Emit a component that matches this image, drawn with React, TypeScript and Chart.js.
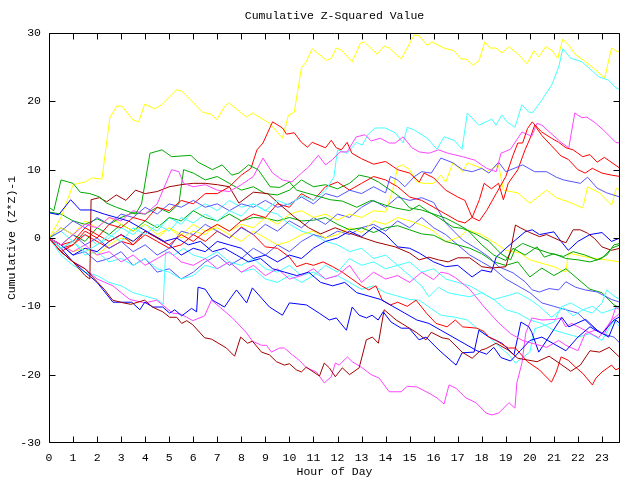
import React, { useEffect, useRef } from "react";
import { Chart, registerables } from "chart.js";

Chart.register(...registerables);

const TITLE = "Cumulative Z-Squared Value";
const X_TITLE = "Hour of Day";
const Y_TITLE = "Cumulative (Z*Z)-1";
const X_MIN = 0;
const X_MAX = 23.75;
const Y_MIN = -30;
const Y_MAX = 30;
const X_TICKS = [0,1,2,3,4,5,6,7,8,9,10,11,12,13,14,15,16,17,18,19,20,21,22,23];
const Y_TICKS = [-30,-20,-10,0,10,20,30];

const RED = "#ff0000";
const GREEN = "#00a800";
const BLUE = "#0000ff";
const MAGENTA = "#ff44ff";
const CYAN = "#44ffff";
const DARKRED = "#a00000";
const YELLOW = "#ffff00";
const SLATE = "#5555ff";

type P = [number, number];

const yellowTop: P[] = [[0,0],[0.5,3],[1,7.8],[1.5,8.2],[1.8,8.8],[2.2,8.6],[2.53,17.6],[2.82,19.3],[3.03,19.3],[3.49,17.3],[3.73,17],[3.98,19.6],[4.4,18.9],[4.69,19.5],[5.31,21.7],[5.52,21.5],[5.98,19.9],[6.39,18.4],[6.76,18.1],[6.97,17.3],[7.3,19.2],[7.47,19.8],[8.22,17.7],[8.46,18.3],[9.17,16.8],[9.71,14.6],[9.96,18],[10.2,18.4],[10.5,24.9],[10.7,25.8],[10.95,27.7],[11.54,26],[11.74,26.3],[11.95,27.8],[12.16,27.5],[12.61,25.8],[12.95,28.5],[13.11,28.7],[13.65,26.9],[13.94,28.1],[14.15,27.8],[14.65,26.2],[15.19,29.7],[15.39,29.6],[15.73,28.2],[15.93,28.7],[16.43,27.8],[16.85,27.4],[17.14,26.2],[17.34,26.2],[17.63,25.3],[17.88,25.9],[18.13,28.7],[18.34,27.8],[18.59,27.8],[18.84,27.1],[19.13,28],[19.54,26.8],[19.88,25.5],[20.17,27.4],[20.37,26.5],[20.66,28],[20.91,27.5],[21.16,26.3],[21.37,29.1],[21.62,28.2],[21.91,26.8],[22.32,25.8],[22.74,24.6],[23.11,23.4],[23.4,27.8],[23.57,27.4],[23.75,27.2]];

const cyanTop: P[] = [[0,0],[0.5,-1.5],[1,-0.5],[1.5,-2],[2,-1],[2.5,0.5],[3,-0.5],[3.5,1.5],[4,0.5],[4.5,2],[5,1],[5.5,3],[6,2.2],[6.5,3.5],[7,2.5],[7.5,4],[8,3.2],[8.5,5],[9,4],[9.5,5.5],[10,4.8],[10.5,6.2],[11,5.5],[11.5,7],[11.85,8.9],[12.0,12.9],[12.4,12.4],[12.78,14],[13.03,13.6],[13.28,15.2],[13.57,16.1],[13.98,16.1],[14.4,15.4],[14.73,13.9],[14.9,16.2],[15.2,15.8],[15.73,14.6],[16.14,13],[16.43,14.8],[16.85,14.3],[17.18,13],[17.4,18.3],[17.88,16.5],[18.42,17.4],[18.59,16.5],[18.84,18],[19.05,17],[19.38,16.2],[19.67,19.5],[19.96,18.4],[20.13,18.4],[20.5,20.2],[20.91,22.4],[21.2,25],[21.37,27.7],[21.7,26.3],[22.16,25.8],[22.45,24.9],[22.86,23.6],[23.28,23.1],[23.57,22],[23.75,21.7]];

const magentaHigh: P[] = [[0,0],[0.5,-1],[1,0.5],[1.5,2],[2,1.5],[2.5,3],[3,2.5],[3.5,4],[4,3.5],[4.5,5],[5.1,10],[5.4,9.7],[5.6,8],[6,7.5],[6.5,7.8],[7,7],[7.5,6.8],[8,7.8],[8.5,9],[8.9,11.7],[9.3,9.5],[9.7,8.5],[10.1,8.2],[10.5,9.5],[10.8,10.4],[11.2,12.1],[11.5,10.7],[11.8,11.5],[12.1,12.6],[12.4,12.6],[12.78,14.8],[13.15,15.1],[13.4,14.2],[13.78,14.6],[14.15,13.9],[14.4,13.9],[14.73,14.8],[15.1,13.2],[15.4,12.6],[15.8,12.4],[16.2,12.9],[16.6,12.4],[17.2,11.9],[17.7,11.4],[18.2,10.2],[18.6,9.7],[18.8,12.4],[19.2,13],[19.67,15.5],[20.08,14.9],[20.3,16.8],[20.5,16.5],[21.33,13.9],[21.62,13.2],[21.87,18.3],[22.16,17.6],[22.37,17.7],[22.74,16.8],[23.15,15.5],[23.57,14],[23.75,13.9]];

const redPeak: P[] = [[0,0],[0.5,-2],[1,-1],[1.5,1],[2,0],[2.5,2],[3,1.5],[3.5,3],[4,2.5],[4.5,4.5],[5,4],[5.5,5.5],[6,5],[6.5,6.5],[7,6.5],[7.5,7.5],[8,9.2],[8.4,10.2],[8.65,12.9],[8.9,13.9],[9.3,17],[9.71,16.1],[9.88,15.2],[10.2,15.4],[10.5,14],[10.75,13.3],[10.95,14],[11.5,13.2],[11.74,14.3],[11.95,13.2],[12.16,12.9],[12.4,14],[12.6,12.4],[13,11.6],[13.5,10.8],[14,11.2],[14.5,10],[15,9.5],[15.4,8.2],[15.6,9.5],[16,8.8],[16.5,7],[17,6],[17.3,5.5],[17.6,3],[17.9,2.5],[18.2,4],[18.6,6.5],[19,9],[19.3,12.1],[19.5,13.9],[19.7,13.9],[19.9,16],[20.1,17],[20.3,16.2],[20.5,15.5],[20.9,14.6],[21.2,14],[21.5,13.2],[21.8,12.9],[22.2,11.9],[22.5,12.2],[22.8,11.1],[23.1,11.8],[23.75,10.2]];

const redLate: P[] = [[0,0],[0.5,-1],[1,-0.5],[1.5,1.5],[2,0.5],[2.5,-0.5],[3,0.5],[3.5,-1],[4,1],[4.5,0],[5,-1],[5.5,0.5],[6,-0.5],[6.5,1],[7,2],[7.5,1],[8,2.5],[8.5,3.5],[9,3],[9.5,5],[10,4.5],[10.5,6.5],[11,5.5],[11.5,7.5],[12,8.2],[12.5,7],[13,8],[13.5,9],[14,8.5],[14.5,7.5],[15,6],[15.5,5.5],[16,4.5],[16.5,3.5],[17,2.5],[17.3,2.2],[17.6,3],[17.9,5.6],[18.1,8],[18.4,7.2],[18.7,8],[18.9,5.6],[19.1,8],[19.5,10],[19.8,12.9],[20,14.5],[20.2,16.5],[20.5,15],[20.9,13.5],[21.3,12],[21.6,11.5],[22,10],[22.3,9.5],[22.6,10.2],[23,9.5],[23.4,9.2],[23.75,9]];

const redLow: P[] = [[0,0],[0.5,-1.5],[1,-1],[1.5,0.5],[2,-0.5],[2.5,-1.5],[3,-0.5],[3.5,-1],[4,0.5],[4.5,-0.5],[5,-1.5],[5.5,-1],[6,0.5],[6.5,-0.5],[7,1],[7.5,0],[8,1.6],[8.5,0.5],[9,-1.3],[9.5,-1.5],[10,-2.8],[10.3,-4.2],[10.7,-3.7],[11,-4],[11.4,-3.5],[11.8,-4.2],[12.2,-5],[12.6,-6],[13,-7],[13.3,-7.6],[13.6,-7],[13.86,-9.1],[14.2,-9.8],[14.5,-9.4],[14.9,-10],[15.27,-9.1],[15.7,-11],[16.1,-12.5],[16.56,-13],[16.9,-12],[17.2,-13],[17.8,-13.2],[18.1,-13.7],[18.3,-14.5],[18.6,-15],[19.1,-16.1],[19.4,-16.1],[19.9,-18.1],[20.4,-19.3],[20.9,-21.1],[21.1,-19.6],[21.3,-17.4],[21.6,-17.9],[21.9,-18.9],[22.2,-19.8],[22.6,-21.5],[22.75,-20.5],[23,-19.6],[23.4,-18.6],[23.57,-19.3],[23.75,-19]];

const greenHigh: P[] = [[0,4.5],[0.2,4],[0.5,8.5],[0.8,8.2],[1,8],[1.3,6.7],[1.7,6.5],[2.1,6],[2.4,5.1],[2.8,4.5],[3.2,4],[3.6,3.5],[3.85,5],[4.2,12.4],[4.7,12.9],[5.1,11.9],[5.9,12.1],[6.2,11.1],[6.8,10],[7.2,10.7],[7.6,9.2],[7.9,9.5],[8.3,10.7],[8.7,10],[9.2,7.5],[9.6,7.4],[10,8.2],[10.3,7],[10.7,6.6],[11.1,6.2],[11.7,5.6],[12.2,5.4],[12.8,4.5],[13.4,5.5],[14,4.8],[14.4,4.4],[15,4],[15.4,4.8],[15.8,3.8],[16.2,3],[16.8,1.6],[17.2,1.4],[17.8,0.5],[18.3,-0.5],[18.8,-2.3],[19.2,-3.2],[19.4,-1.5],[19.7,-0.8],[20.2,-1.5],[20.8,-2.2],[21.4,-2.7],[21.8,-2],[22.3,-2.5],[22.8,-3.2],[23.2,-2.5],[23.5,-1],[23.75,-0.8]];

const greenMid: P[] = [[0,3.8],[0.5,3.5],[1,2.5],[1.5,2],[2,2.8],[2.5,2],[3,3],[3.5,3.7],[4,3.5],[4.5,4.5],[5,3.7],[5.4,5],[5.6,10],[6,9.5],[6.5,8.5],[7,9],[7.5,8],[8,7],[8.5,7.5],[9,6.5],[9.5,6.3],[10,7],[10.5,8.5],[11,7.5],[11.5,7.8],[12,7.2],[12.5,8],[12.9,9.2],[13.3,8.9],[13.7,8.2],[14.2,7],[14.6,6],[15,4.4],[15.5,4.1],[16,3.5],[16.5,2.9],[17,2],[17.4,1.2],[18,-1],[18.5,-2.5],[19,-3.3],[19.3,-1.5],[19.8,-2.5],[20.3,-1.3],[20.6,-2.8],[21,-2.3],[21.5,-3],[22,-3.2],[22.5,-3.5],[23,-3],[23.4,-1.5],[23.75,-1]];

const greenLow: P[] = [[0,0],[0.5,-1],[1,0.5],[1.5,-0.5],[2,1.5],[2.5,0.5],[3,2],[3.5,1],[4,2.5],[4.5,1.5],[5,3],[5.5,2.5],[6,4],[6.5,3],[7,2.5],[7.5,3.5],[8,2.5],[8.5,3],[9,2.9],[9.5,2.5],[10,3],[10.5,2.5],[11,2.6],[11.5,3],[12,2],[12.5,1.2],[13,1.5],[13.5,0.8],[14,1.5],[14.5,1.8],[15,1.2],[15.5,0.6],[16,0.4],[16.5,-0.5],[17,-1],[17.5,-1.5],[18,-2.3],[18.5,-3.5],[19,-4],[19.5,-3.5],[20,-5.7],[20.5,-4.4],[21,-5.5],[21.5,-4.5],[22,-6],[22.5,-7.5],[23,-8],[23.5,-9.8],[23.75,-10.2]];

const blueHigh: P[] = [[0,3.7],[0.4,3.4],[0.9,5.6],[1.3,4.1],[1.8,4.1],[2.3,3.5],[2.8,3],[3.3,2.5],[3.8,1.5],[4.3,0.5],[4.8,-0.5],[5.3,0],[5.8,-1],[6.3,-0.5],[6.8,-2],[7.3,-1.5],[7.8,-2.5],[8.3,-3.5],[8.8,-3],[9.3,-4.5],[9.8,-5],[10.3,-5.5],[10.8,-5],[11.3,-6.5],[11.8,-7],[12.3,-6.5],[12.8,-8],[13.3,-8.5],[13.8,-9],[14.3,-10],[14.8,-11],[15.3,-12],[15.8,-12.5],[16.3,-13.5],[16.8,-14.5],[17.3,-15.5],[17.8,-16.5],[18.2,-17],[18.5,-16],[18.8,-17.5],[19.2,-18],[19.6,-16.5],[20,-15],[20.5,-14.5],[21,-15.5],[21.5,-16.5],[22,-14.5],[22.5,-13],[23,-14],[23.5,-12],[23.75,-11.5]];

const blueMid: P[] = [[0,0],[0.5,-1],[1,-2.5],[1.5,-1.5],[2,-2],[2.5,-0.5],[3,0.5],[3.5,-0.5],[4,1],[4.5,0],[5,-1],[5.5,-2.5],[6,-1.5],[6.5,-2],[7,-0.5],[7.5,-1],[8,-1.5],[8.5,-3],[9,-2.5],[9.5,-3.5],[10,-2.5],[10.5,-3],[11,-1.5],[11.5,-0.5],[12,0],[12.5,1],[13,0.2],[13.5,1.6],[14,0.5],[14.5,-1.3],[15,-1.5],[15.4,-2.2],[16,-3.5],[16.5,-4.2],[17,-4],[17.6,-5.7],[18,-4.7],[18.4,-5],[18.6,-2.8],[19,-1.5],[19.4,-0.3],[19.8,0.9],[20.1,1.2],[20.4,0.5],[21,0.9],[21.3,-0.5],[21.6,-1.8],[22,-0.5],[22.5,0.5],[23,0.8],[23.4,-0.5],[23.75,0]];

const blueLow: P[] = [[0,0],[0.5,-1.5],[1,-3.5],[1.5,-5],[2,-6.5],[2.66,-9.4],[3.44,-9.4],[3.78,-10.5],[3.98,-9.4],[4.32,-10.1],[4.73,-10.1],[5.02,-11],[5.23,-10.5],[5.52,-11.4],[5.93,-10.3],[6.14,-10.8],[6.2,-7.2],[6.5,-7.5],[6.8,-9.1],[7.3,-10.1],[7.59,-8.6],[7.8,-7.6],[8.22,-9.5],[8.46,-7.3],[9.17,-10.1],[9.71,-11.3],[10,-9.5],[10.71,-9.8],[11.24,-11],[11.66,-12],[11.95,-11.7],[12.37,-13.5],[12.61,-10.1],[12.9,-11.3],[13.2,-11.7],[13.44,-11.3],[13.69,-12],[13.9,-10.8],[14.23,-12.3],[14.65,-13.2],[14.98,-13.2],[15.39,-14.9],[15.68,-14.5],[16.22,-16.4],[16.93,-18.6],[17.18,-16.8],[17.68,-16.7],[17.88,-13.5],[18.3,-14.5],[18.84,-15.4],[19.34,-17.1],[19.63,-12.3],[19.96,-13],[20.08,-13.8],[20.37,-16.7],[20.79,-14.5],[21.33,-11.6],[21.62,-13],[22.32,-11.9],[22.8,-13.5],[23.28,-14.5],[23.57,-12],[23.75,-12.5]];

const darkRedMid: P[] = [[0,0],[0.5,-2],[1,-3.5],[1.5,-5.5],[1.7,-6],[1.75,5.6],[2.1,5.9],[2.4,5.3],[2.8,6.3],[3.2,5.5],[3.6,7],[4,6.5],[4.5,6.8],[5,7.5],[5.5,7.8],[6,8],[6.5,8],[7,7.8],[7.5,7.5],[7.9,5.1],[8.5,6.7],[9.1,6.5],[9.6,4.9],[10.2,3.1],[10.8,1.5],[11.3,0.6],[11.9,1.5],[12.5,0.7],[13.6,-0.6],[14.4,-1.3],[15,-2.2],[15.4,-3.2],[15.8,-2.8],[16.2,-3.2],[16.6,-3.5],[17,-2.9],[17.5,-2.9],[18,-4.2],[18.4,-4.4],[19,-4.2],[19.2,-1.8],[19.4,1.9],[19.6,1.5],[20,0.8],[20.4,0.2],[20.7,0.5],[21.2,-0.3],[21.5,-0.7],[21.8,1.2],[22.1,1.2],[22.4,0.7],[22.7,-0.1],[23,-1.3],[23.4,-1.8],[23.75,-1.5]];

const darkRedLow: P[] = [[0,0],[0.5,-2],[1,-3.5],[1.5,-4.5],[2,-6.4],[2.3,-7.5],[2.65,-9.1],[3.1,-9.5],[3.4,-9.7],[3.98,-9.1],[4.3,-10.1],[4.73,-10.8],[5.02,-11.6],[5.31,-11.6],[5.52,-12.5],[5.73,-12.1],[5.98,-12.7],[6.47,-14.6],[6.76,-14.8],[7.38,-16.1],[7.72,-17.3],[7.97,-14.5],[8.26,-15.4],[8.46,-15.1],[8.84,-16.7],[9.17,-17.1],[9.46,-18.1],[9.79,-18.6],[10,-18.4],[10.29,-19.3],[10.5,-19.6],[10.7,-18.9],[11.25,-20.2],[11.45,-18.3],[11.66,-19],[11.91,-20.3],[12.2,-19],[12.5,-20],[12.9,-19],[13.2,-14.9],[13.45,-14.5],[13.7,-15.4],[13.94,-10.5],[14.44,-12],[14.9,-13],[15.27,-13.8],[15.68,-14.9],[15.9,-13.8],[16.35,-14.6],[16.64,-14.8],[17.18,-16.7],[17.6,-17.6],[17.97,-16.4],[18.17,-16.2],[18.6,-15.4],[19.1,-16.4],[19.5,-17.6],[20.3,-18.1],[20.8,-17.3],[21.3,-18.5],[21.7,-19.5],[22.1,-18.6],[22.5,-16.5],[22.9,-16.7],[23.3,-16],[23.75,-17.5]];

const yellowMid: P[] = [[0,0],[0.5,1.5],[1,0.5],[1.5,2.5],[2,1.5],[2.5,3],[3,2],[3.5,1],[4,2],[4.5,0.5],[5,1.5],[5.5,0],[6,1],[6.5,0.5],[7,2],[7.5,1],[8,2],[8.5,1.5],[9,3],[9.5,2],[10,3.5],[10.5,4],[11,3],[11.5,3.5],[12,2.6],[12.5,3.5],[13,3],[13.5,4],[14,3.8],[14.3,7],[14.5,10.4],[14.7,10.7],[15,10],[15.3,8.2],[15.6,8],[16,8],[16.3,9.2],[16.5,8.2],[16.8,11],[17.2,9.7],[17.4,11],[18,10.2],[18.2,9.7],[18.7,10.7],[18.9,7],[19.5,6.6],[20,5.1],[20.7,7],[21.1,5.9],[21.6,5.3],[22.2,4.4],[22.4,7.5],[22.9,6.6],[23.4,4.8],[23.6,7.3],[23.75,7]];

const yellowLow: P[] = [[0,0],[0.5,-1],[1,-2],[1.5,-1.5],[2,-2.5],[2.5,-1],[3,0],[3.5,-0.5],[4,1],[4.5,0],[5,1.5],[5.5,0.5],[6,2],[6.5,1],[7,1.5],[7.5,0.5],[8,-0.5],[8.5,1],[9,0],[9.5,-1],[10,-0.5],[10.5,0.5],[11,1],[11.5,0],[12,0.5],[12.5,1.5],[13,0.8],[13.5,2.5],[14,2],[14.5,3],[15,2.5],[15.5,1.9],[16,1],[16.5,-0.6],[17.1,0.2],[17.4,1.2],[18,0.5],[18.5,-0.6],[19,-1.8],[19.6,-2.2],[20,-3.2],[20.6,-3.8],[21,-4.2],[21.5,-5],[21.6,-2.2],[22.5,-2.9],[23.2,-3.2],[23.75,-3.5]];

const slateHigh: P[] = [[0,0],[0.5,1],[1,2.5],[1.5,1.5],[2,3],[2.5,2],[3,3.5],[3.5,3],[4,4.5],[4.5,3.5],[5,5],[5.5,4.5],[6,5.5],[6.5,4.5],[7,5],[7.5,4],[8,5],[8.5,4.5],[9,5.5],[9.5,4.5],[10,5],[10.5,6],[11,5],[11.5,6.5],[12,6],[12.5,7],[13,6.5],[13.5,7.5],[14,6.6],[14.2,9],[14.5,8.5],[14.8,7.5],[15.2,9],[15.5,9.7],[15.9,9.5],[16.3,11.7],[16.8,11],[17.2,10],[17.6,9.7],[18,10.2],[18.3,9.5],[18.7,11.1],[19,9.7],[19.7,10.7],[20.2,9.7],[20.7,9.7],[21.1,8.9],[21.4,8.5],[22.1,8],[22.4,8.9],[22.8,7.3],[23.2,6.6],[23.75,6]];

const slateMid: P[] = [[0,0],[0.5,1.5],[1,0.5],[1.5,-1],[2,0],[2.5,-1.5],[3,-0.5],[3.5,-2],[4,-1],[4.5,-2.5],[5,-1.5],[5.5,1],[6,0.5],[6.5,2],[7,1],[7.5,0],[8,1.5],[8.5,0.5],[9,2],[9.5,1],[10,2.5],[10.5,1.5],[11,3],[11.5,2],[12,3.5],[12.5,3],[13,4.5],[13.5,5.5],[14,4.5],[14.5,6],[15,5.5],[15.5,5.9],[16,5.2],[16.5,2.2],[17.2,-0.3],[17.9,-1.8],[18.3,-2.8],[18.7,-4.2],[19.3,-5.1],[19.8,-6.4],[20.1,-7.6],[20.4,-7.9],[20.8,-7.4],[21.2,-7.6],[21.5,-6.4],[21.9,-7.2],[22.3,-7.6],[22.8,-7.9],[23.4,-9],[23.75,-9.4]];

const slateLow: P[] = [[0,0],[0.5,-1],[1,-2.5],[1.5,-2],[2,-3.5],[2.5,-3],[3,-2],[3.5,-4],[4,-3],[4.5,-5],[5,-4.5],[5.5,-6],[6,-5],[6.5,-3.5],[7,-2.5],[7.5,-4],[8,-3],[8.5,-1.5],[9,-2.5],[9.5,-1],[10,-2],[10.5,-0.5],[11,0.5],[11.5,0],[12,1],[12.5,0.5],[13,1.5],[13.5,2],[14,1],[14.5,2.5],[15,1.5],[15.5,3],[16,1.5],[16.5,0.5],[17,-1],[17.5,-2.5],[18,-3.5],[18.5,-4.5],[19,-6],[19.5,-7],[20,-8],[20.5,-9.5],[21,-10],[21.5,-10.5],[22,-11],[22.5,-12.7],[23,-14],[23.5,-14.5],[23.75,-15.4]];

const cyanMid: P[] = [[0,0],[0.5,-1.5],[1,-0.5],[1.5,-2.5],[2,-2],[2.5,-3.5],[3,-3],[3.5,-4],[4,-3],[4.5,-4.5],[5,-5],[5.5,-6],[6,-5.5],[6.5,-4],[7,-4.5],[7.5,-3.5],[8,-5],[8.5,-4.5],[9,-6],[9.5,-6.5],[10,-5.5],[10.5,-6.5],[11,-5.5],[11.5,-4],[12,-5],[12.5,-3],[13,-4],[13.5,-3.5],[14,-4.5],[14.5,-4],[15,-5.5],[15.5,-7],[15.8,-8.6],[16.2,-7.2],[16.6,-8],[17,-8.3],[17.5,-8.6],[18,-8],[18.5,-9],[19,-8.5],[19.5,-8],[20,-9],[20.4,-10],[20.9,-11.6],[21.4,-10.2],[21.8,-11.4],[22.2,-10.5],[22.6,-11],[23,-9.5],[23.2,-7.6],[23.5,-8.5],[23.75,-9]];

const cyanLow: P[] = [[0,0],[0.5,-2.5],[1,-4],[1.5,-5],[2,-5.5],[2.5,-6.5],[3,-7],[3.5,-8],[4,-8.5],[4.5,-9],[4.75,-9.7],[4.85,-2],[5.2,-2.5],[5.6,-1.5],[6,-2.5],[6.5,-3],[7,-2],[7.5,-3.5],[8,-4],[8.5,-3],[9,-4.5],[9.5,-5],[10,-4],[10.5,-5.5],[11,-5],[11.5,-6],[12,-5.5],[12.5,-6.5],[13,-7.5],[13.5,-7],[14,-8],[14.5,-8.5],[15,-9],[15.4,-9.1],[15.8,-10.1],[16.3,-11.3],[16.9,-11.6],[17.4,-12],[17.8,-13.2],[18.2,-14.2],[18.6,-15.5],[19.1,-17],[19.4,-18.3],[19.7,-17.5],[20,-16.7],[20.2,-13.3],[20.6,-12.8],[21,-12.3],[21.3,-10.1],[21.7,-9.5],[22.2,-10.5],[22.6,-10],[23,-11],[23.4,-10.5],[23.75,-10]];

const cyanDrift: P[] = [[0,0],[0.5,1],[1,-0.5],[1.5,0.5],[2,-1],[2.5,0],[3,1.5],[3.5,0.5],[4,2],[4.5,1],[5,3],[5.5,2],[6,4],[6.5,5],[7,4],[7.5,5.5],[8,4.5],[8.5,5],[9,4],[9.5,3.5],[10,2],[10.5,1],[11,0.5],[11.5,-0.5],[12,-1],[12.5,-2],[13,-1.5],[13.5,-3],[14,-2.5],[14.5,-4],[15,-3.5],[15.5,-5],[16,-4.5],[16.5,-6],[17,-6.5],[17.5,-7],[18,-8],[18.5,-9],[19,-10.5],[19.5,-11],[20,-12],[20.5,-12.5],[21,-13.5],[21.5,-14],[22,-14.5],[22.5,-14],[23,-15],[23.5,-12],[23.75,-13]];

const magentaMid: P[] = [[0,0],[0.5,-1],[1,-2],[1.5,-1],[2,-2.5],[2.5,-2],[3,-3.5],[3.5,-2.5],[4,-4],[4.5,-3],[5,-2],[5.5,-3.5],[6,-4],[6.5,-3],[7,-4.5],[7.5,-3.5],[8,-5],[8.5,-4],[9,-5.5],[9.5,-4.5],[10,-6],[10.5,-5.5],[11,-4.5],[11.5,-6],[12,-5.5],[12.5,-4],[13,-6.5],[13.5,-5],[14,-6],[14.5,-5.5],[15,-6.5],[15.5,-5],[16,-6.1],[16.3,-5],[16.6,-5.2],[16.9,-5.8],[17.5,-7.5],[18.1,-10.1],[18.7,-12.4],[19.2,-14],[19.7,-15],[20.2,-15.5],[20.7,-16],[21.2,-15],[21.5,-15.7],[22,-16.5],[22.3,-14],[22.7,-13.5],[23.1,-14],[23.4,-12],[23.75,-11]];

const magentaLow: P[] = [[0,0],[0.5,-2],[1,-3.5],[1.5,-4.5],[2,-6],[2.66,-7],[3,-8],[3.36,-9],[4,-9.5],[4.48,-9.1],[4.9,-10.3],[5.15,-11],[5.44,-11.1],[5.73,-11.6],[5.98,-12.1],[6.47,-11.4],[6.76,-9.1],[7.1,-10.1],[7.63,-11.7],[8.22,-13.9],[8.46,-15.1],[8.84,-15.7],[9.05,-15.7],[9.25,-16.7],[9.59,-16.1],[9.79,-16.1],[10.12,-17.1],[10.41,-17.9],[10.71,-19],[11.12,-19.6],[11.45,-21.2],[11.74,-20.3],[11.91,-18.3],[12.07,-18.6],[12.41,-17.4],[12.61,-18.1],[12.99,-18.9],[13.4,-20],[13.73,-20.5],[14.15,-22.5],[14.65,-22.5],[14.9,-21.7],[15.3,-21.8],[15.8,-22.7],[16.14,-23.4],[16.43,-24.3],[16.64,-21.5],[16.93,-22],[17.34,-23.4],[17.76,-24.1],[18.17,-25.6],[18.42,-25.9],[18.71,-25.6],[19.13,-24.1],[19.38,-24.9],[19.46,-21.2],[19.67,-18.3],[19.83,-13.9],[20.08,-11.7],[20.5,-12],[21.08,-11.9],[21.29,-11.7],[21.49,-13],[21.74,-12.5],[22.45,-13.8],[22.86,-14.6],[23.1,-13.5],[23.4,-12],[23.57,-10.2],[23.75,-10.5]];

const SERIES: { data: P[]; color: string }[] = [
  { data: redPeak, color: RED },
  { data: greenHigh, color: GREEN },
  { data: blueHigh, color: BLUE },
  { data: magentaHigh, color: MAGENTA },
  { data: cyanTop, color: CYAN },
  { data: darkRedMid, color: DARKRED },
  { data: yellowTop, color: YELLOW },
  { data: slateHigh, color: SLATE },
  { data: redLate, color: RED },
  { data: greenMid, color: GREEN },
  { data: blueMid, color: BLUE },
  { data: magentaMid, color: MAGENTA },
  { data: cyanMid, color: CYAN },
  { data: darkRedLow, color: DARKRED },
  { data: yellowMid, color: YELLOW },
  { data: slateMid, color: SLATE },
  { data: redLow, color: RED },
  { data: greenLow, color: GREEN },
  { data: blueLow, color: BLUE },
  { data: magentaLow, color: MAGENTA },
  { data: cyanLow, color: CYAN },
  { data: yellowLow, color: YELLOW },
  { data: slateLow, color: SLATE },
  { data: cyanDrift, color: CYAN },
];

const FONT_FAMILY = '"Liberation Mono", "DejaVu Sans Mono", monospace';
const FONT_SIZE = 11.5;

const framePlugin = {
  id: "gnuFrame",
  afterDraw(chart: any) {
    const { ctx, chartArea, scales } = chart;
    const { left, right, top, bottom } = chartArea;
    const L = Math.round(left) + 0.5;
    const R = Math.round(right) - 0.5;
    const T = Math.round(top) + 0.5;
    const B = Math.round(bottom) - 0.5;
    const tick = 6;
    ctx.save();
    ctx.strokeStyle = "#000000";
    ctx.lineWidth = 1;
    ctx.beginPath();
    ctx.moveTo(L, T);
    ctx.lineTo(R, T);
    ctx.lineTo(R, B);
    ctx.lineTo(L, B);
    ctx.closePath();
    ctx.stroke();
    ctx.beginPath();
    X_TICKS.forEach((v) => {
      const px = Math.round(scales.x.getPixelForValue(v)) + 0.5;
      ctx.moveTo(px, B);
      ctx.lineTo(px, B - tick);
      ctx.moveTo(px, T);
      ctx.lineTo(px, T + tick);
    });
    Y_TICKS.forEach((v) => {
      const raw = Math.round(scales.y.getPixelForValue(v)) + 0.5;
      const py = Math.min(B, Math.max(T, raw));
      ctx.moveTo(L, py);
      ctx.lineTo(L + tick, py);
      ctx.moveTo(R, py);
      ctx.lineTo(R - tick, py);
    });
    ctx.stroke();
    ctx.fillStyle = "#000000";
    ctx.font = `${FONT_SIZE}px ${FONT_FAMILY}`;
    ctx.textAlign = "center";
    ctx.textBaseline = "middle";
    ctx.fillText(TITLE, (left + right) / 2, 16);
    ctx.restore();
  },
};

export default function App() {
  const canvasRef = useRef<HTMLCanvasElement | null>(null);

  useEffect(() => {
    const canvas = canvasRef.current;
    if (!canvas) return;
    const chart = new Chart(canvas, {
      type: "line",
      data: {
        datasets: SERIES.map((s) => ({
          data: s.data.map(([x, y]) => ({ x, y })),
          borderColor: s.color,
          backgroundColor: s.color,
          borderWidth: 1,
          pointRadius: 0,
          pointHoverRadius: 0,
          tension: 0,
          fill: false,
        })),
      },
      options: {
        animation: false,
        responsive: true,
        maintainAspectRatio: false,
        events: [],
        layout: { padding: { top: 33, right: 20, left: 0, bottom: 0 } },
        plugins: {
          legend: { display: false },
          title: { display: false },
          tooltip: { enabled: false },
        },
        scales: {
          x: {
            type: "linear",
            min: X_MIN,
            max: X_MAX,
            grid: { display: false, drawTicks: false },
            border: { display: false },
            afterBuildTicks: (scale: any) => {
              scale.ticks = X_TICKS.map((value) => ({ value }));
            },
            ticks: {
              autoSkip: false,
              maxRotation: 0,
              padding: 8,
              color: "#000",
              font: { family: FONT_FAMILY, size: FONT_SIZE },
            },
            title: {
              display: true,
              text: X_TITLE,
              color: "#000",
              font: { family: FONT_FAMILY, size: FONT_SIZE },
              padding: { top: 0, bottom: 1 },
            },
            afterFit: (scale: any) => {
              scale.height = 37;
            },
          },
          y: {
            type: "linear",
            min: Y_MIN,
            max: Y_MAX,
            grid: { display: false, drawTicks: false },
            border: { display: false },
            afterBuildTicks: (scale: any) => {
              scale.ticks = Y_TICKS.map((value) => ({ value }));
            },
            ticks: {
              padding: 8,
              color: "#000",
              font: { family: FONT_FAMILY, size: FONT_SIZE },
            },
            title: {
              display: true,
              text: Y_TITLE,
              color: "#000",
              font: { family: FONT_FAMILY, size: FONT_SIZE },
              padding: { top: 5, bottom: 0 },
            },
            afterFit: (scale: any) => {
              scale.width = 49;
            },
          },
        },
      },
      plugins: [framePlugin],
    });
    return () => chart.destroy();
  }, []);

  return (
    <div style={{ position: "fixed", left: 0, top: 0, width: 640, height: 480, background: "#fff" }}>
      <canvas ref={canvasRef} />
    </div>
  );
}
